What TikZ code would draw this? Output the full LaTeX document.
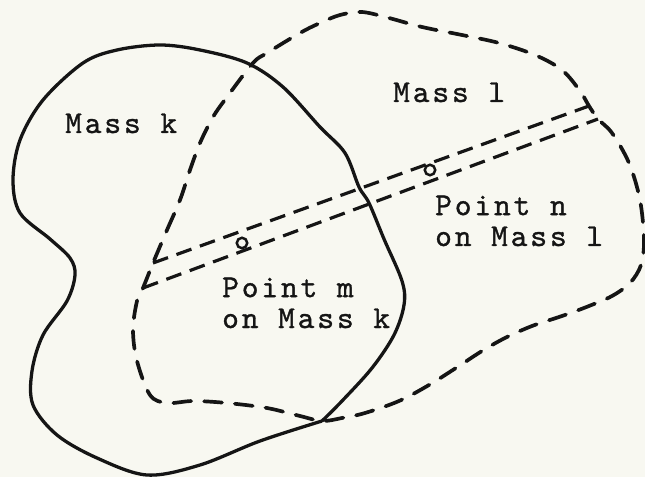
\documentclass[tikz,border=0pt]{standalone}
\usepackage{fontspec}
\newfontfamily\typewr{lmmono10-regular}[Extension=.otf, LetterSpace=9, FakeBold=1]
\definecolor{paper}{HTML}{F8F8F1}
\definecolor{ink}{HTML}{151515}
\tikzset{
  rimk/.style={draw=ink, line width=3.3pt, line join=round},
  riml/.style={draw=ink, line width=3.7pt, line cap=round, dash pattern=on 18pt off 13pt},
  strip/.style={draw=ink, line width=3.2pt, dash pattern=on 16pt off 9pt},
  lbl/.style={font=\typewr\fontsize{32}{31}\selectfont,
              text=ink, inner sep=0pt, align=left, anchor=base west},
  pt/.style={circle, draw=ink, line width=2.5pt, inner sep=0pt, minimum size=10.5pt},
}

\begin{document}
\begin{tikzpicture}[x=1bp, y=-1bp]
\useasboundingbox (0,0) rectangle (645,477);
\fill[paper] (0,0) rectangle (645,477);

\coordinate (mA) at (153,263);
\coordinate (mB) at (143,288);
\coordinate (nA) at (589,106);
\coordinate (nB) at (598,119);

\draw[rimk] plot[smooth, tension=0.55] coordinates {(322,421) (342,401) (372,368) (394,335)
  (404,305) (402,281) (384,239) (369,203) (359,187) (345,153) (320,127) (283,87) (247,63)
  (200,50) (160,45) (117,50) (83,63) (43,100) (20,140) (13,180) (20,213) (50,239) (70,258)
  (75,275) (67,301) (43,335) (32,371) (33,405) (57,435) (97,458) (147,475) (200,465)
  (260,441) (322,421)};

\draw[riml] plot[smooth cycle, tension=0.55] coordinates {(mA) (167,230) (180,200) (190,170)
  (200,143) (213,117) (227,97) (253,63) (267,53) (300,33) (320,23) (340,15) (362,12) (389,18)
  (422,27) (462,35) (499,43) (535,55) (562,70) (580,91) (nA) (nB) (612,133) (629,163)
  (640,200) (644,240) (641,265) (630,283) (612,296) (589,306) (562,316) (532,326) (505,338)
  (482,351) (459,366) (429,385) (399,401) (365,413) (342,418) (322,421) (300,416) (267,408)
  (227,403) (193,401) (167,403) (150,395) (137,361) (133,330) (137,301) (mB)};

\draw[strip] (mA) -- (nA);
\draw[strip] (mB) -- (nB);

\node[pt] (ptm) at (242,243) {};
\node[pt] (ptn) at (430,170) {};

\node[lbl] (massk) at (65,133) {Mass k};
\node[lbl] (massl) at (393,102) {Mass l};
\node[lbl] (labn) at (435,246) {Point n\\on Mass l};
\node[lbl] (labm) at (222,328) {Point m\\on Mass k};
\end{tikzpicture}
\end{document}
